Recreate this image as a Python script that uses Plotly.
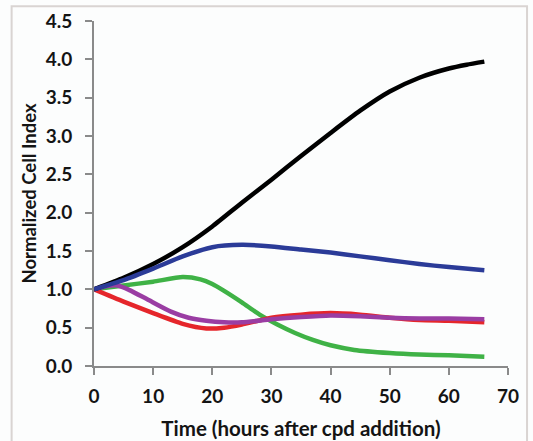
import plotly.graph_objects as go

# Time points (hours after cpd addition)
t_black = [0, 5, 10, 15, 20, 25, 30, 35, 40, 45, 50, 55, 60, 63, 66]
black = [1.0, 1.15, 1.33, 1.55, 1.82, 2.13, 2.43, 2.74, 3.04, 3.33, 3.58, 3.76, 3.88, 3.93, 3.97]

t_blue = [0, 5, 10, 15, 20, 25, 30, 35, 40, 45, 50, 55, 60, 66]
blue = [1.0, 1.12, 1.27, 1.43, 1.55, 1.58, 1.56, 1.52, 1.48, 1.43, 1.38, 1.33, 1.29, 1.25]

t_green = [0, 5, 10, 15, 18, 20, 22, 25, 28, 31, 34, 37, 40, 44, 50, 55, 60, 66]
green = [1.0, 1.05, 1.10, 1.16, 1.13, 1.07, 0.98, 0.83, 0.67, 0.54, 0.43, 0.34, 0.27, 0.21, 0.17, 0.15, 0.14, 0.12]

t_red = [0, 5, 10, 15, 19, 22, 25, 30, 35, 40, 45, 50, 55, 60, 66]
red = [1.0, 0.84, 0.69, 0.55, 0.49, 0.50, 0.54, 0.63, 0.67, 0.69, 0.67, 0.63, 0.60, 0.59, 0.57]

t_purple = [0, 2, 4, 6, 9, 13, 16, 19, 22, 25, 30, 35, 40, 45, 50, 55, 60, 66]
purple = [1.0, 1.04, 1.05, 0.99, 0.87, 0.71, 0.63, 0.59, 0.57, 0.57, 0.61, 0.64, 0.66, 0.65, 0.63, 0.62, 0.62, 0.61]

x_ticks = [0, 10, 20, 30, 40, 50, 60, 70]
y_ticks = [0.0, 0.5, 1.0, 1.5, 2.0, 2.5, 3.0, 3.5, 4.0, 4.5]

series = [
    (t_green, green, "#3fb246"),
    (t_red, red, "#e5262b"),
    (t_purple, purple, "#9a3da3"),
    (t_black, black, "#000000"),
    (t_blue, blue, "#2b3b98"),
]

fig = go.Figure()
for tx, ty, col in series:
    fig.add_trace(go.Scatter(x=tx, y=ty, mode="lines", line=dict(color=col, width=4.5, shape="spline", smoothing=0.6),
                             showlegend=False, hoverinfo="skip"))

font_fam = "Lato, 'Open Sans', sans-serif"
txt_col = "#141414"
fig.update_layout(
    width=533, height=441,
    margin=dict(l=94, r=25, t=21, b=75),
    paper_bgcolor="#fcfdfd", plot_bgcolor="#fcfdfd",
    font=dict(family=font_fam, color=txt_col),
    showlegend=False,
)
fig.update_xaxes(
    range=[0, 70], tickvals=x_ticks, ticktext=[str(v) for v in x_ticks], automargin=False,
    showline=True, linecolor="#8a8a8a", linewidth=2, ticks="outside", ticklen=7, tickwidth=2,
    tickcolor="#8a8a8a", showgrid=False, zeroline=False, ticklabelstandoff=5,
    tickfont=dict(size=19, family=font_fam, weight="bold", color=txt_col),
    title=dict(text="Time (hours after cpd addition)", font=dict(size=20.5, family=font_fam, weight="bold", color=txt_col), standoff=16),
)
fig.update_yaxes(
    range=[0, 4.5], tickvals=y_ticks, ticktext=[f"{v:.1f}" for v in y_ticks], automargin=False,
    showline=True, linecolor="#8a8a8a", linewidth=2, ticks="outside", ticklen=7, tickwidth=2,
    tickcolor="#8a8a8a", showgrid=False, zeroline=False, ticklabelstandoff=9,
    tickfont=dict(size=19, family=font_fam, weight="bold", color=txt_col),
    title=dict(text="Normalized Cell Index", font=dict(size=18.5, family=font_fam, weight="bold", color=txt_col), standoff=4),
)
# light frame around the figure
fig.add_shape(type="rect", xref="paper", yref="paper", x0=-0.199, x1=1.046, y0=-0.25, y1=1.043,
              line=dict(color="#d9d4d2", width=2), fillcolor="rgba(0,0,0,0)", layer="below")

fig.write_html("out.html")
